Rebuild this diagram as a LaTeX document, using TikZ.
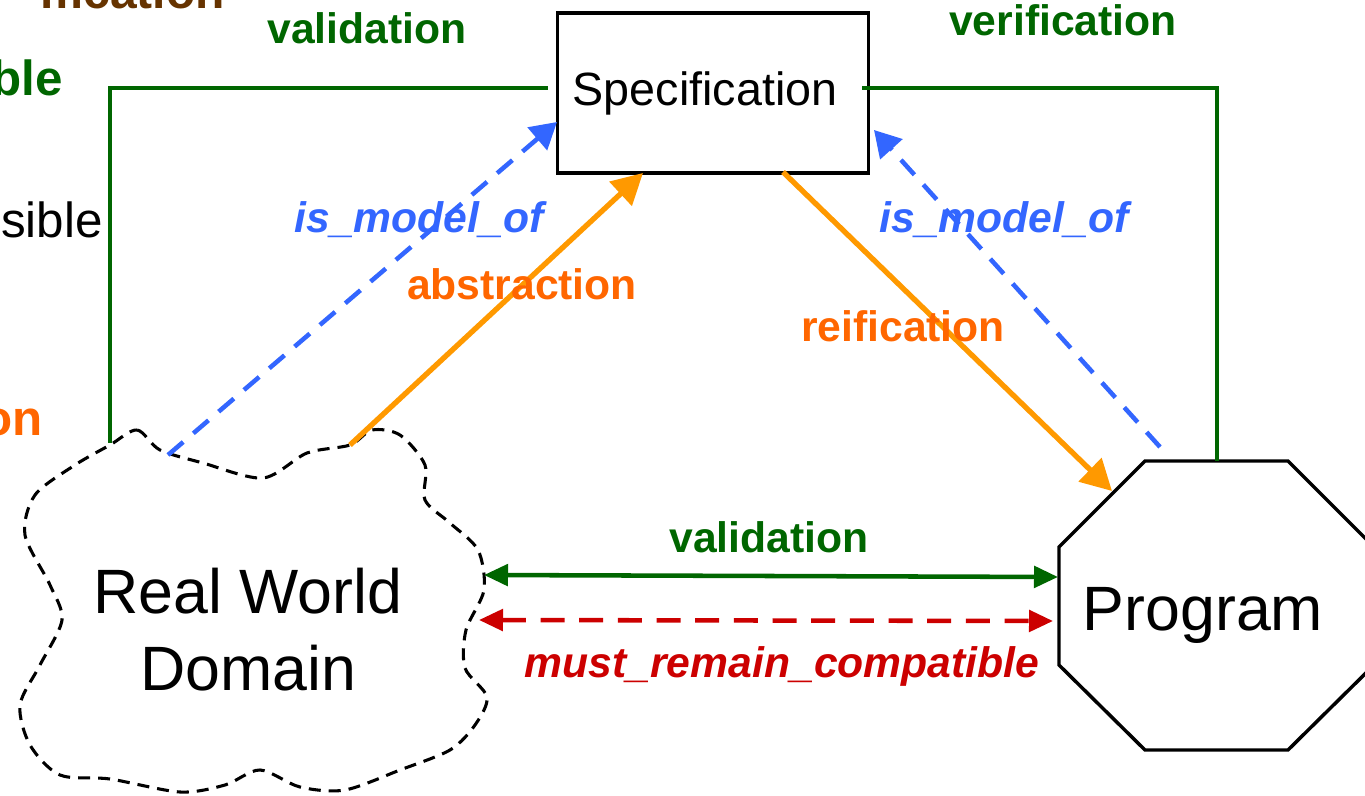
\documentclass[tikz,border=0pt]{standalone}
\usepackage{fontspec}
\setmainfont{Liberation Sans}
\usetikzlibrary{arrows.meta}
\definecolor{vgreen}{HTML}{006600}
\definecolor{mblue}{HTML}{3366FF}
\definecolor{aorange}{HTML}{FF9900}
\definecolor{torange}{HTML}{FF6600}
\definecolor{mred}{HTML}{CC0000}
\definecolor{brown}{HTML}{663300}
\begin{document}
\begin{tikzpicture}[x=0.75pt,y=-0.75pt,
  lbl/.style={font=\fontsize{32}{38}\selectfont\bfseries, inner sep=0pt, anchor=base},
  ilbl/.style={font=\fontsize{32}{38}\selectfont\bfseries\itshape, inner sep=0pt, anchor=base},
  bigtxt/.style={font=\fontsize{47}{57}\selectfont, inner sep=0pt, align=center},
  greenline/.style={draw=vgreen, line width=3.6pt},
  bluedash/.style={draw=mblue, line width=3.4pt, dash pattern=on 15pt off 10pt, -{Triangle[length=19.5pt,width=22pt]}},
  orangearr/.style={draw=aorange, line width=4pt, -{Triangle[length=23pt,width=24pt]}},
  greenarr/.style={draw=vgreen, line width=3.4pt, {Triangle[length=18pt,width=16pt]}-{Triangle[length=18pt,width=16pt]}},
  redarr/.style={draw=mred, line width=3.4pt, dash pattern=on 18pt off 11pt, {Triangle[length=18pt,width=16pt]}-{Triangle[length=18pt,width=16pt]}},
  specbox/.style={draw=black, line width=2.6pt, minimum width=233pt, minimum height=120pt, inner sep=0pt, font=\fontsize{35}{42}\selectfont}
]
\useasboundingbox (0,0) rectangle (1365,796);
\clip (0,0) rectangle (1365,796);

% partial texts at left edge
\node[lbl, anchor=base east, text=brown, font=\fontsize{36}{42}\selectfont\bfseries] (t1) at (225,8) {ification};
\node[lbl, anchor=base east, text=vgreen, font=\fontsize{37}{44}\selectfont\bfseries] (t2) at (63,95) {ble};
\node[lbl, anchor=base east, text=black, font=\fontsize{37}{44}\selectfont] (t3) at (103,237) {sible};
\node[lbl, anchor=base east, text=torange, font=\fontsize{37}{44}\selectfont\bfseries] (t4) at (43,435) {on};

% Specification
\node[specbox] (spec) at (713,93) {Specification\hspace*{12pt}\mbox{}};

% Program octagon
\coordinate (p1) at (1145,461);
\coordinate (p2) at (1288,461);
\coordinate (p3) at (1374,547);
\coordinate (p4) at (1374,665);
\coordinate (p5) at (1288,750);
\coordinate (p6) at (1145,750);
\coordinate (p7) at (1059,665);
\coordinate (p8) at (1059,547);
\draw[line width=2.6pt, line join=miter] (p1) -- (p2) -- (p3) -- (p4) -- (p5) -- (p6) -- (p7) -- (p8) -- cycle;
\node[bigtxt, anchor=base] (prog) at (1203,630) {Program};

% Real World cloud
\draw[line width=2.3pt, dash pattern=on 9pt off 6pt] plot[smooth cycle, tension=0.5] coordinates {
 (110,445) (137,430) (160,450) (203,463) (263,478) (307,453) (350,445) (372,430)
 (400,435) (425,465) (425,500) (450,523) (478,550) (484,590) (466,630) (465,668)
 (487,697) (475,725) (450,750) (400,770) (345,790) (300,787) (260,770) (225,785)
 (180,792) (110,779) (60,775) (30,745) (20,705) (40,665) (62,620) (50,585)
 (25,535) (35,495) (75,465)};
\node[bigtxt, anchor=base] (rw1) at (248,613) {Real World};
\node[bigtxt, anchor=base] (rw2) at (248,690) {Domain};

% connector endpoints
\coordinate (gl0) at (110,443);
\coordinate (gl1) at (110,88);
\coordinate (gr1) at (1217,88);
\coordinate (gr0) at (1217,461);
\coordinate (bl0) at (168,455);
\coordinate (bl1) at (557,122);
\coordinate (br0) at (1160,447);
\coordinate (br1) at (874,130);
\coordinate (oa0) at (350,445);
\coordinate (oa1) at (643,173);
\coordinate (or0) at (783,172);
\coordinate (or1) at (1112,491);
\coordinate (gv0) at (484,575);
\coordinate (gv1) at (1058,577);
\coordinate (rc0) at (479,620);
\coordinate (rc1) at (1053,621);

% green validation / verification
\draw[greenline, shorten <=6pt] (gl1 -| spec.west) -- (gl1) -- (gl0);
\draw[greenline, shorten <=-6pt] (gr1 -| spec.east) -- (gr1) -- (gr0);
\node[lbl, text=vgreen] (lval) at (367,43) {validation};
\node[lbl, text=vgreen] (lver) at (1063,36) {verification};

% is_model_of
\draw[bluedash] (bl0) -- (bl1);
\draw[bluedash] (br0) -- (br1);
\node[ilbl, text=mblue] (lm1) at (419,232) {is\_model\_of};
\node[ilbl, text=mblue] (lm2) at (1004,232) {is\_model\_of};

% abstraction / reification
\draw[orangearr] (oa0) -- (oa1);
\draw[orangearr] (or0) -- (or1);
\node[lbl, text=torange] (labs) at (522,299) {abstraction};
\node[lbl, text=torange] (lrei) at (903,341) {reification};

% bottom
\draw[greenarr] (gv0) -- (gv1);
\node[lbl, text=vgreen] (lval2) at (769,552) {validation};
\draw[redarr] (rc0) -- (rc1);
\node[ilbl, text=mred] (lmust) at (782,677) {must\_remain\_compatible};
\end{tikzpicture}
\end{document}
